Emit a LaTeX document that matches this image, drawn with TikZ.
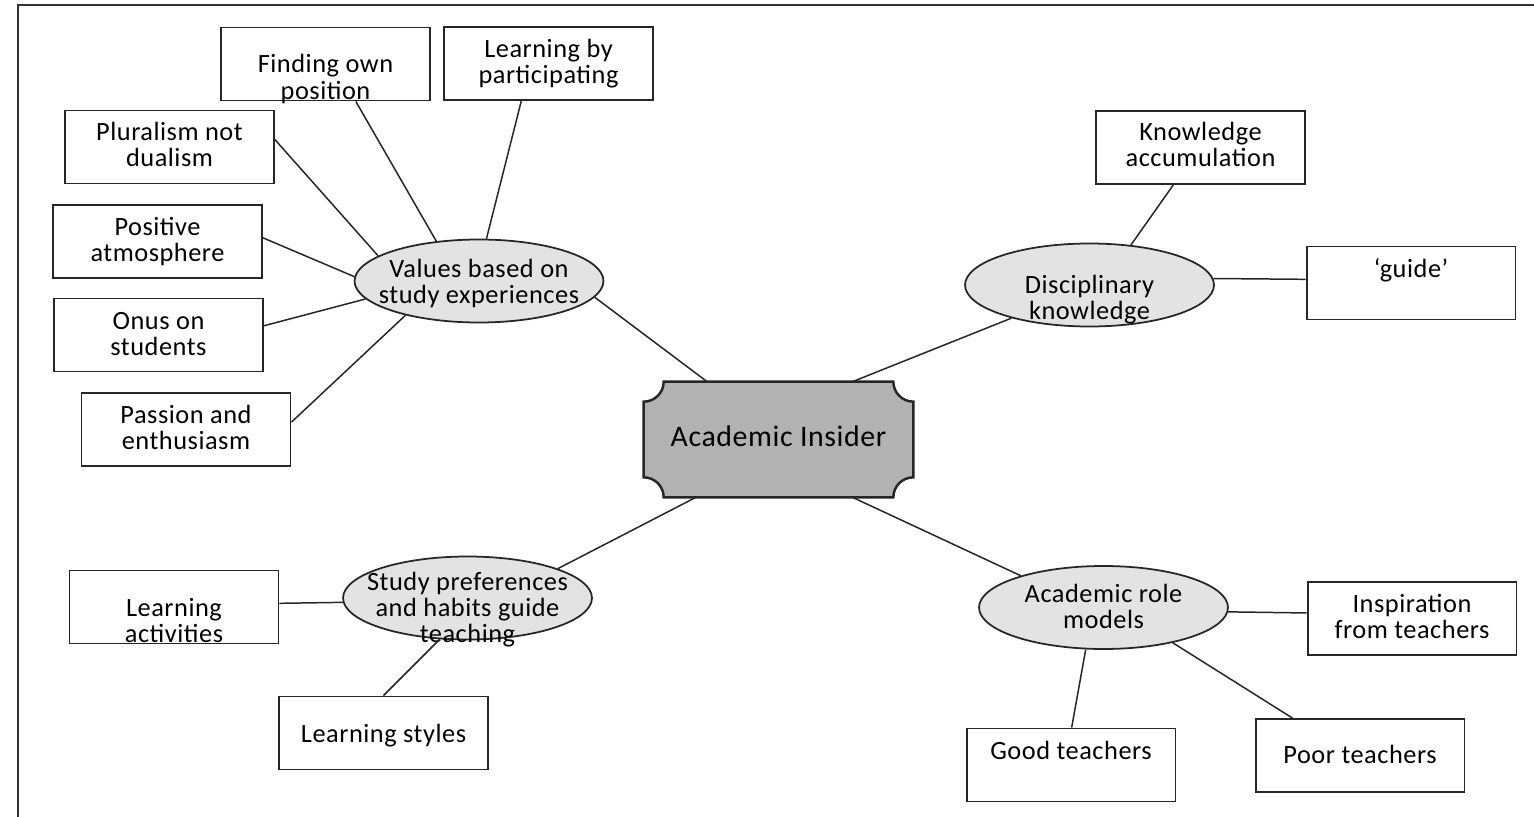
\documentclass[tikz,border=0pt]{standalone}
\usepackage{fontspec}
\setmainfont{Carlito}[LetterSpace=2]
\usetikzlibrary{shapes.geometric,backgrounds}
\newcommand{\txt}[2][0pt]{\makebox[0pt]{\raisebox{\dimexpr#1-.25em-0.08cm\relax}[0pt][0pt]{\begin{tabular}{@{}c@{}}#2\end{tabular}}}}
\tikzset{
  box/.style={draw=black!85,line width=1.1pt,rectangle,minimum width=4.18cm,minimum height=1.46cm,inner sep=0pt,font=\fontsize{15}{15}\selectfont},
  bubble/.style={draw=black!85,line width=1pt,ellipse,fill=black!11,minimum width=4.98cm,minimum height=1.66cm,inner sep=0pt,font=\fontsize{15}{15}\selectfont},
  core/.style={rectangle,minimum width=5.38cm,minimum height=2.3cm,inner sep=0pt,font=\fontsize{17}{17}\selectfont},
  link/.style={draw=black!85,line width=0.85pt}
}
\begin{document}
\begin{tikzpicture}[x=0.02cm,y=-0.02cm]
  \useasboundingbox (0,0) rectangle (1534,817);
  \draw[line width=1.1pt,black!80] (18,817) -- (18,5) -- (1534,5);

  \node[box] (fop) at (325.5,64) {\txt[-0.25cm]{Finding own\\position}};
  \node[box] (lbp) at (548.5,63.5) {\txt[0.05cm]{Learning by\\participating}};
  \node[box] (pnd) at (169.5,147) {\txt[0.06cm]{Pluralism not\\dualism}};
  \node[box] (pos) at (157.5,241.5) {\txt[0.05cm]{Positive\\atmosphere}};
  \node[box] (onus) at (158.5,335) {\txt[0.04cm]{Onus on\\students}};
  \node[box] (pae) at (186,429.5) {\txt[0.05cm]{Passion and\\enthusiasm}};
  \node[bubble] (val) at (479,281) {\txt{Values based on\\study experiences}};

  \node[core] (ai) at (778.5,439.5) {\txt[0.05cm]{Academic Insider}};
  \begin{scope}[on background layer]
    \draw[fill=black!30,draw=black!85,line width=1.4pt]
      ([xshift=0.4cm]ai.north west) -- ([xshift=-0.4cm]ai.north east)
      arc[start angle=180,end angle=270,radius=0.4cm] -- ([yshift=0.4cm]ai.south east)
      arc[start angle=90,end angle=180,radius=0.4cm] -- ([xshift=0.4cm]ai.south west)
      arc[start angle=0,end angle=90,radius=0.4cm] -- ([yshift=-0.4cm]ai.north west)
      arc[start angle=270,end angle=360,radius=0.4cm] -- cycle;
  \end{scope}

  \node[bubble] (dk) at (1089.5,285) {\txt[-0.24cm]{Disciplinary\\knowledge}};
  \node[box] (ka) at (1200.5,147.5) {\txt[0.07cm]{Knowledge\\accumulation}};
  \node[box] (gd) at (1411,283) {\txt[0.3cm]{‘guide’}};

  \node[bubble] (arm) at (1103.5,607.5) {\txt[0.03cm]{Academic role\\models}};
  \node[box] (ift) at (1412,618.5) {\txt[0.05cm]{Inspiration\\from teachers}};
  \node[box] (gt) at (1071,765) {\txt[0.3cm]{Good teachers}};
  \node[box] (pt) at (1360,755.5) {\txt[0.03cm]{Poor teachers}};

  \node[bubble] (sph) at (467.5,598) {\txt[-0.18cm]{Study preferences\\and habits guide\\teaching}};
  \node[box] (la) at (174,607) {\txt[-0.26cm]{Learning\\activities}};
  \node[box] (ls) at (383.5,733) {\txt{Learning styles}};

  \draw[link] (val.137) -- (fop.-51);
  \draw[link] (val.80) -- (lbp.-126);
  \draw[link] (val.166) -- (pnd.4);
  \draw[link] (val.178) -- (pos.2);
  \draw[link] (val.189) -- (onus.5);
  \draw[link] (val.205) -- (pae.4);
  \draw[link] (val.-8) -- (ai.141);
  \draw[link] (ai.38) -- (dk.203);
  \draw[link] (dk.44) -- (ka.-126);
  \draw[link] (dk.3) -- (gd.178);
  \draw[link] (ai.-38) -- (arm.159);
  \draw[link] (arm.358) -- (ift.177);
  \draw[link] (arm.-113) -- (gt.89);
  \draw[link] (arm.-27) -- (pt.151);
  \draw[link] (ai.-145) -- (sph.18);
  \draw[link] (sph.182) -- (la.2);
  \draw[link] (sph.236) -- (ls.90);
\end{tikzpicture}
\end{document}
